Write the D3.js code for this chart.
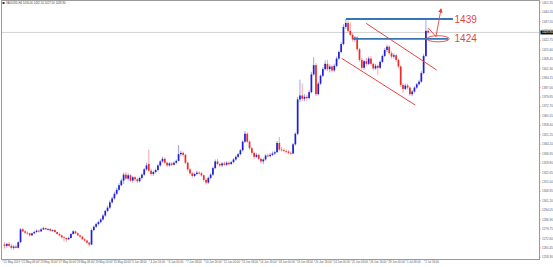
<!DOCTYPE html>
<html>
<head>
<meta charset="utf-8">
<script src="https://cdn.jsdelivr.net/npm/d3@7"></script>
<style>
  html, body { margin: 0; padding: 0; background: #fff; }
  svg { display: block; }
  text { font-family: "Liberation Sans", Arial, sans-serif; }
</style>
</head>
<body>
<script>
// XAUUSD H4, 21 May - 2 Jul 2019

var symbolTitle = "XAUUSD,H4  1430.00 1432.50 1427.50 1428.80";

// one row per H4 bar: open, high, low, close
var bars = [
  [1268, 1270, 1265, 1267], [1267, 1269, 1265.5, 1268.5], [1268.5, 1270, 1266, 1267],
  [1267, 1268.5, 1264.5, 1265.5], [1265.5, 1267.5, 1264, 1266.5], [1266.5, 1268, 1265, 1265.5],
  [1265.5, 1270.5, 1265, 1269.8], [1269.8, 1280.5, 1269, 1279.5], [1279.5, 1280.5, 1277.5, 1278],
  [1278, 1279, 1276, 1277], [1277, 1278, 1275.5, 1276.5], [1276.5, 1277, 1274, 1275],
  [1275, 1277, 1274.5, 1276.5], [1276.5, 1278.5, 1276, 1277.5], [1277.5, 1279.5, 1277, 1278.5],
  [1278.5, 1279.5, 1277, 1278], [1278, 1280.5, 1277.5, 1279.5], [1279.5, 1281.5, 1279, 1280.5],
  [1280.5, 1281, 1279, 1279.5], [1279.5, 1280.5, 1278.5, 1279.8], [1279.8, 1280.5, 1278, 1278.5],
  [1278.5, 1279.5, 1277.5, 1279], [1279, 1279.5, 1277, 1277.5], [1277.5, 1278, 1275.5, 1276],
  [1276, 1277, 1274, 1275], [1275, 1275.5, 1272.5, 1273.5], [1273.5, 1274.5, 1270.2, 1273],
  [1273, 1273.5, 1270, 1272], [1272, 1274, 1271.5, 1273], [1273, 1276.5, 1272.5, 1276],
  [1276, 1279, 1275.5, 1278], [1278, 1278.5, 1276, 1276.5], [1276.5, 1277.5, 1274.5, 1275],
  [1275, 1275.5, 1273, 1274], [1274, 1274.5, 1271.5, 1272], [1272, 1273, 1270, 1271],
  [1271, 1271.5, 1268.5, 1269.5], [1269.5, 1270, 1266.5, 1268], [1268, 1280, 1267.5, 1279],
  [1279, 1282.5, 1278, 1281.5], [1281.5, 1284.5, 1280.5, 1283.5], [1283.5, 1286, 1282.5, 1285],
  [1285, 1288, 1284, 1287], [1287, 1291, 1286, 1290], [1290, 1294.5, 1289, 1293.5],
  [1293.5, 1297.5, 1292.5, 1296], [1296, 1301.5, 1295, 1300], [1300, 1304.5, 1299, 1303],
  [1303, 1308, 1302, 1306.5], [1306.5, 1311, 1305.5, 1309.5], [1309.5, 1314.5, 1308.5, 1313],
  [1313, 1318, 1312, 1316.5], [1316.5, 1322.5, 1314, 1321], [1321, 1323, 1317, 1318],
  [1318, 1322, 1316.5, 1320.5], [1320.5, 1321.5, 1315.5, 1316.5], [1316.5, 1320, 1315, 1319],
  [1319, 1320, 1316, 1317.5], [1317.5, 1318.5, 1314.5, 1316], [1316, 1319.5, 1315, 1318.5],
  [1318.5, 1322, 1317.5, 1321], [1321, 1326, 1320, 1325], [1325, 1330, 1324, 1328],
  [1329, 1340, 1323, 1324], [1324, 1325.5, 1320.5, 1321.5], [1321.5, 1324, 1320, 1323],
  [1323, 1325.5, 1322, 1324.5], [1324.5, 1329, 1323.5, 1328], [1328, 1332, 1327, 1331],
  [1331, 1334.5, 1330, 1333], [1333, 1334, 1329, 1330], [1330, 1331, 1327, 1328],
  [1328, 1330.5, 1327, 1329.5], [1329.5, 1330.5, 1327.5, 1328.5], [1328.5, 1331, 1328, 1330],
  [1330, 1332.5, 1329, 1331.5], [1331.5, 1343.5, 1331, 1336.5], [1336.5, 1339, 1335, 1337.5],
  [1337.5, 1338.5, 1334.5, 1336], [1336, 1337, 1329, 1330], [1330, 1331, 1323.5, 1325],
  [1325, 1326, 1320.5, 1322], [1322, 1323, 1318.5, 1320], [1320, 1322.5, 1319, 1321.5],
  [1321.5, 1324, 1320.5, 1322.5], [1322.5, 1323.5, 1321, 1322], [1322, 1323, 1319.5, 1320.5],
  [1320.5, 1321, 1316, 1317], [1317, 1318, 1313.5, 1315], [1315, 1319.5, 1314, 1318.5],
  [1318.5, 1322, 1317.5, 1321], [1321, 1327, 1320, 1326], [1326, 1332.5, 1325, 1331],
  [1331, 1333, 1328, 1329], [1329, 1330, 1326.5, 1328], [1328, 1330.5, 1327, 1329.5],
  [1329.5, 1331, 1327.5, 1328.5], [1328.5, 1331, 1327.5, 1330], [1330, 1331, 1328, 1329],
  [1329, 1331.5, 1328.5, 1330.5], [1330.5, 1333.5, 1329.5, 1332.5], [1332.5, 1335.5, 1331.5, 1334.5],
  [1334.5, 1337.5, 1333.5, 1336.5], [1336.5, 1340.5, 1335.5, 1339.5], [1339.5, 1347, 1338.5, 1346],
  [1346, 1354, 1345, 1352], [1352, 1353, 1345, 1346], [1346, 1347, 1340, 1341],
  [1341, 1342, 1336, 1337.5], [1337.5, 1338.5, 1333, 1334.5], [1334.5, 1337.5, 1333.5, 1336],
  [1336, 1337, 1332, 1333], [1333, 1334, 1329.5, 1331], [1331, 1333.5, 1329, 1332.5],
  [1332.5, 1336.5, 1331.5, 1335.5], [1335.5, 1337, 1334, 1335], [1335, 1337.5, 1334, 1336],
  [1336, 1338.5, 1335, 1337], [1337, 1339, 1336, 1338], [1338, 1346.5, 1337.5, 1345],
  [1345, 1349.5, 1339, 1340], [1340, 1342, 1338.5, 1339.5], [1339.5, 1341, 1338, 1339],
  [1339, 1340, 1337, 1338.5], [1338.5, 1339.5, 1336.5, 1337.5], [1337.5, 1338.5, 1336, 1337],
  [1337, 1345, 1336.5, 1344], [1344, 1353, 1343, 1352], [1352, 1380, 1351, 1378],
  [1378, 1393, 1376, 1381], [1381, 1390, 1377, 1378.5], [1378.5, 1382, 1376.5, 1380],
  [1380, 1381.5, 1377, 1379], [1379, 1385, 1378, 1383.5], [1383.5, 1399, 1382.5, 1397],
  [1397, 1410, 1396, 1404], [1404, 1405.5, 1380.5, 1382], [1382, 1391.5, 1381, 1390],
  [1390, 1397, 1389, 1396], [1396, 1402.5, 1395, 1401], [1401, 1407.5, 1400, 1405],
  [1405, 1408, 1399.5, 1401], [1401, 1404.5, 1398.5, 1403], [1403, 1404, 1398.5, 1400],
  [1400, 1405, 1399, 1403.5], [1403.5, 1410.5, 1402.5, 1409], [1409, 1415, 1408, 1414],
  [1414, 1421.5, 1413, 1420], [1420, 1435, 1419, 1433], [1433, 1439, 1431.5, 1436],
  [1436, 1438, 1429, 1430], [1430, 1436.5, 1426, 1427], [1427, 1428.5, 1422, 1423.5],
  [1423.5, 1426, 1421.5, 1425], [1425, 1426, 1414.5, 1416], [1416, 1417, 1406.5, 1408],
  [1408, 1409.5, 1400.5, 1402], [1402, 1408, 1400.5, 1407], [1407, 1409.5, 1403, 1405],
  [1405, 1410.5, 1404, 1409], [1409, 1411, 1403.5, 1405], [1405, 1406, 1400, 1401.5],
  [1401.5, 1405, 1400.5, 1403.5], [1403.5, 1404.5, 1396.5, 1402], [1402, 1407.5, 1401, 1406.5],
  [1406.5, 1412, 1405.5, 1411], [1411, 1417, 1410, 1415.5], [1415.5, 1419.5, 1414, 1418],
  [1418, 1419, 1412, 1413], [1413, 1414.5, 1409, 1410.5], [1410.5, 1413, 1409, 1411.5],
  [1411.5, 1412.5, 1406.5, 1408], [1408, 1409, 1401.5, 1403], [1403, 1404, 1387.5, 1389],
  [1389, 1390.5, 1383, 1386], [1386, 1390, 1385, 1388.5], [1388.5, 1390, 1385.5, 1387],
  [1387, 1388, 1380.5, 1382], [1382, 1385, 1380.5, 1384], [1384, 1388, 1383, 1387],
  [1387, 1390.5, 1386, 1389.5], [1389.5, 1393, 1388.5, 1391.5], [1391.5, 1399.5, 1390.5, 1398],
  [1398, 1412.5, 1397, 1411], [1411, 1438, 1410, 1430], [1430, 1432.5, 1427.5, 1428.8]
];

var priceTicks = [1451.35, 1444.20, 1437.05, 1429.90, 1422.75, 1415.60, 1408.45, 1401.30,
  1394.15, 1387.00, 1379.85, 1372.70, 1365.55, 1358.40, 1351.25, 1344.10, 1336.95, 1329.80,
  1322.65, 1315.50, 1308.35, 1301.20, 1294.05, 1286.90, 1279.75, 1272.60, 1265.45, 1258.30];

var timeTickBars = [0, 8, 16, 24, 32, 40, 48, 56, 64, 72, 80, 88, 96, 104, 112, 120,
  128, 136, 144, 152, 160, 168, 176, 184];
var timeTickLabels = ["21 May 2019", "22 May 08:00", "23 May 16:00", "27 May 00:00",
  "28 May 08:00", "29 May 16:00", "31 May 00:00", "3 Jun 08:00", "4 Jun 16:00",
  "6 Jun 00:00", "7 Jun 08:00", "10 Jun 16:00", "12 Jun 00:00", "13 Jun 08:00",
  "14 Jun 16:00", "18 Jun 00:00", "19 Jun 08:00", "20 Jun 16:00", "24 Jun 00:00",
  "25 Jun 08:00", "26 Jun 16:00", "28 Jun 00:00", "1 Jul 08:00", "2 Jul 16:00"];

// hand-drawn annotations (bar index, price)
var levelPrices = [1439, 1424];
var levelFrom = [149.1, 152.2];
var levelTo = [195.8, 193.7];
var channelUpper = [[157.9, 1435.7], [188.7, 1400.3]];
var channelLower = [[147.2, 1409.2], [179.3, 1373.8]];
var arrowPoints = [[185.2, 1431.9], [188.4, 1425.6], [190.6, 1446.6]];
var ringCenter = [189.3, 1424];

var width = 553, height = 267;
var plot = { left: 1.5, right: 539.5, top: 0.5, bottom: 259.5 };

var svg = d3.select("body").append("svg")
    .attr("width", width)
    .attr("height", height);

var x = d3.scaleLinear().domain([0, 185]).range([4.5, 428.2]);
var y = d3.scaleLinear().domain([1453.4, 1255]).range([0, 261.7]);

svg.append("defs").append("clipPath")
    .attr("id", "clip")
  .append("rect")
    .attr("x", plot.left)
    .attr("y", plot.top)
    .attr("width", plot.right - plot.left)
    .attr("height", plot.bottom - plot.top);

// bid line
var lastClose = bars[bars.length - 1][3];
svg.append("line")
    .attr("x1", plot.left).attr("x2", plot.right)
    .attr("y1", y(lastClose)).attr("y2", y(lastClose))
    .attr("stroke", "#c8c8c8")
    .attr("stroke-width", 0.8);

var chart = svg.append("g").attr("clip-path", "url(#clip)");

var bull = "#1f1fd4", bear = "#ee2a2a";

var candle = chart.selectAll(".candle")
    .data(bars)
  .enter().append("g")
    .attr("class", "candle");

candle.append("line")
    .attr("x1", function (d, i) { return x(i); })
    .attr("x2", function (d, i) { return x(i); })
    .attr("y1", function (d) { return y(d[1]); })
    .attr("y2", function (d) { return y(d[2]); })
    .attr("stroke", function (d) { return d[3] >= d[0] ? bull : bear; })
    .attr("stroke-opacity", 0.6)
    .attr("stroke-width", 0.7);

candle.append("rect")
    .attr("x", function (d, i) { return x(i) - 0.85; })
    .attr("width", 1.7)
    .attr("y", function (d) { return y(Math.max(d[0], d[3])); })
    .attr("height", function (d) { return Math.max(0.8, Math.abs(y(d[0]) - y(d[3]))); })
    .attr("fill", function (d) { return d[3] >= d[0] ? bull : bear; });

// frame
svg.append("rect")
    .attr("x", plot.left).attr("y", plot.top)
    .attr("width", plot.right - plot.left)
    .attr("height", plot.bottom - plot.top)
    .attr("fill", "none")
    .attr("stroke", "#9a9a9a")
    .attr("stroke-width", 1);

// price axis
var axisText = "#5a5a5a";
priceTicks.forEach(function (p) {
  svg.append("line")
      .attr("x1", plot.right).attr("x2", plot.right + 1.5)
      .attr("y1", y(p)).attr("y2", y(p))
      .attr("stroke", "#9a9a9a").attr("stroke-width", 0.5);
  svg.append("text")
      .attr("x", plot.right + 2.5)
      .attr("y", y(p))
      .attr("dy", "0.35em")
      .attr("font-size", 3)
      .attr("fill", axisText)
      .text(p.toFixed(2));
});

// current price tag
svg.append("rect")
    .attr("x", plot.right + 1)
    .attr("y", y(lastClose) - 2)
    .attr("width", 14)
    .attr("height", 4)
    .attr("fill", "#111");
svg.append("text")
    .attr("x", plot.right + 2.5)
    .attr("y", y(lastClose))
    .attr("dy", "0.35em")
    .attr("font-size", 3)
    .attr("fill", "#fff")
    .text(lastClose.toFixed(2));

// time axis
timeTickBars.forEach(function (b, k) {
  var tx = x(b) - 1.5;
  svg.append("line")
      .attr("x1", tx).attr("x2", tx)
      .attr("y1", plot.bottom).attr("y2", plot.bottom + 2)
      .attr("stroke", "#9a9a9a").attr("stroke-width", 0.5);
  svg.append("text")
      .attr("x", tx + 0.8)
      .attr("y", plot.bottom + 3.6)
      .attr("font-size", 2.8)
      .attr("fill", axisText)
      .text(timeTickLabels[k]);
});

// title
svg.append("rect")
    .attr("x", 2.5).attr("y", 2).attr("width", 2).attr("height", 2)
    .attr("fill", "#333");
svg.append("text")
    .attr("x", 6)
    .attr("y", 4.3)
    .attr("font-size", 2.8)
    .attr("fill", "#444")
    .text(symbolTitle);

// annotations
var note = svg.append("g");
var red = "#e2453f", blue = "#3577b5";

levelPrices.forEach(function (p, k) {
  note.append("line")
      .attr("x1", x(levelFrom[k])).attr("x2", x(levelTo[k]))
      .attr("y1", y(p)).attr("y2", y(p))
      .attr("stroke", blue)
      .attr("stroke-width", 1.8);
  note.append("text")
      .attr("x", x(196.5))
      .attr("y", y(p))
      .attr("dy", "0.36em")
      .attr("font-size", 10)
      .attr("fill", red)
      .text(String(p));
});

var line = d3.line()
    .x(function (d) { return x(d[0]); })
    .y(function (d) { return y(d[1]); });

[channelUpper, channelLower].forEach(function (c) {
  note.append("path")
      .attr("d", line(c))
      .attr("fill", "none")
      .attr("stroke", red)
      .attr("stroke-width", 1);
});

note.append("ellipse")
    .attr("cx", x(ringCenter[0]))
    .attr("cy", y(ringCenter[1]))
    .attr("rx", x(ringCenter[0] + 4.9) - x(ringCenter[0]))
    .attr("ry", y(ringCenter[1] - 2.3) - y(ringCenter[1]))
    .attr("fill", "none")
    .attr("stroke", red)
    .attr("stroke-width", 0.9);

svg.select("defs").append("marker")
    .attr("id", "head")
    .attr("viewBox", "0 0 10 10")
    .attr("refX", 8).attr("refY", 5)
    .attr("markerWidth", 5).attr("markerHeight", 5)
    .attr("orient", "auto")
  .append("path")
    .attr("d", "M0,0L10,5L0,10z")
    .attr("fill", red);

note.append("path")
    .attr("d", line(arrowPoints))
    .attr("fill", "none")
    .attr("stroke", red)
    .attr("stroke-width", 0.9)
    .attr("marker-end", "url(#head)");
</script>
</body>
</html>
